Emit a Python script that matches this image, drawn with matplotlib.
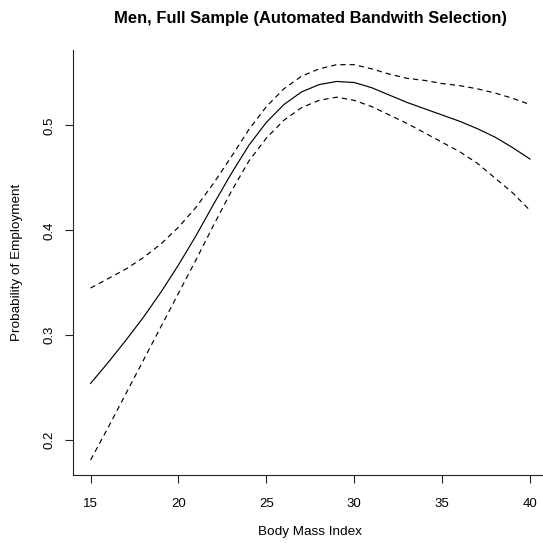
import matplotlib
matplotlib.use("Agg")
import matplotlib.pyplot as plt

plt.rcParams["font.family"] = ["Liberation Sans", "DejaVu Sans"]
plt.rcParams["lines.scale_dashes"] = False

# BMI grid and the estimated probability (with upper / lower bands)
bmi = [15, 16, 17, 18, 19, 20, 21, 22, 23, 24, 25, 26, 27,
       28, 29, 30, 31, 32, 33, 34, 35, 36, 37, 38, 39, 40]
fit = [0.254, 0.274, 0.295, 0.317, 0.341, 0.367, 0.395, 0.425, 0.454, 0.481, 0.503, 0.520, 0.532,
       0.539, 0.542, 0.541, 0.536, 0.529, 0.522, 0.516, 0.510, 0.504, 0.497, 0.489, 0.479, 0.468]
upper = [0.345, 0.354, 0.363, 0.374, 0.387, 0.403, 0.422, 0.445, 0.470, 0.496, 0.518, 0.535, 0.547,
         0.554, 0.558, 0.558, 0.554, 0.549, 0.545, 0.543, 0.540, 0.538, 0.535, 0.531, 0.526, 0.520]
lower = [0.181, 0.212, 0.244, 0.276, 0.308, 0.340, 0.372, 0.405, 0.437, 0.466, 0.488, 0.505, 0.517,
         0.524, 0.527, 0.524, 0.518, 0.510, 0.502, 0.493, 0.484, 0.475, 0.464, 0.450, 0.436, 0.419]

xticks = [15, 20, 25, 30, 35, 40]
yticks = [0.2, 0.3, 0.4, 0.5]

fig = plt.figure(figsize=(5.43, 5.43), dpi=100)
# R-style plot region, runs slightly past the right edge like the original
ax = fig.add_axes([73 / 543, 1 - 475 / 543, 474.6 / 543, 425 / 543])

ax.plot(bmi, fit, color="black", lw=0.85)
ax.plot(bmi, upper, color="black", lw=0.85, dashes=(3.8, 2.9))
ax.plot(bmi, lower, color="black", lw=0.85, dashes=(3.8, 2.9))

ax.set_xlim(14, 41)
ax.set_ylim(0.1667, 0.572)

# bty = "l"
ax.spines["top"].set_visible(False)
ax.spines["right"].set_visible(False)
for s in ("left", "bottom"):
    ax.spines[s].set_linewidth(0.8)
    ax.spines[s].set_color("#222222")

ax.set_xticks(xticks)
ax.set_xticklabels([str(t) for t in xticks])
ax.set_yticks(yticks)
ax.set_yticklabels([f"{t:.1f}" for t in yticks], rotation=90, va="center")
ax.tick_params(axis="both", length=5.5, width=0.8, labelsize=9.5, color="#222222")
ax.tick_params(axis="x", pad=11)
ax.tick_params(axis="y", pad=7)

ax.set_xlabel("Body Mass Index", fontsize=9.7)
ax.set_ylabel("Probability of Employment", fontsize=9.7)
ax.xaxis.set_label_coords(0.5, -0.12)
ax.yaxis.set_label_coords(-0.106, 0.5)

fig.text((73 + 547.6) / 2 / 543, 1 - 19 / 543, "Men, Full Sample (Automated Bandwith Selection)",
         ha="center", va="center", fontsize=11.9, fontweight="bold")

fig.savefig("out.png", dpi=100)
